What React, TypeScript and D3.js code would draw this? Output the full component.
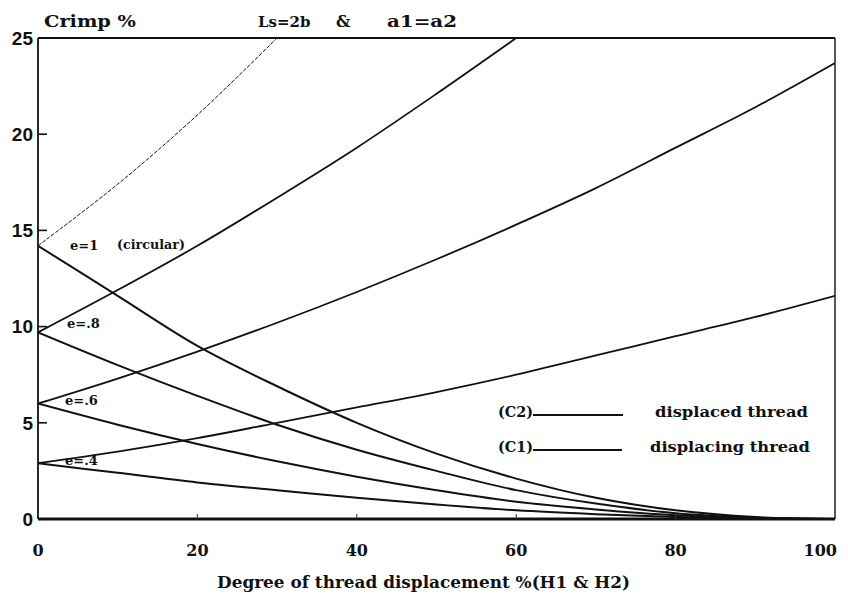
import React from 'react';
import * as d3 from 'd3';

// degree of thread displacement (%)
const xPct = [0, 10, 20, 30, 40, 50, 60, 70, 80, 90, 100];

// C2: displaced thread (crimp rises with displacement)
const c2e10 = [14.2, 17.4, 21.0, 25.0];
const c2e08 = [9.7, 11.9, 14.2, 16.7, 19.3, 22.1, 25.0];
const c2e06 = [6.0, 7.3, 8.7, 10.2, 11.8, 13.5, 15.3, 17.2, 19.3, 21.4, 23.7];
const c2e04 = [2.9, 3.5, 4.2, 5.0, 5.8, 6.6, 7.5, 8.5, 9.5, 10.5, 11.6];

// C1: displacing thread (crimp falls to zero)
const c1e10 = [14.2, 11.6, 9.0, 6.9, 5.0, 3.4, 2.1, 1.1, 0.45, 0.1, 0];
const c1e08 = [9.7, 8.0, 6.4, 4.9, 3.6, 2.5, 1.5, 0.8, 0.3, 0.07, 0];
const c1e06 = [6.0, 4.9, 3.9, 3.0, 2.2, 1.5, 0.9, 0.5, 0.2, 0.05, 0];
const c1e04 = [2.9, 2.4, 1.9, 1.5, 1.1, 0.75, 0.45, 0.25, 0.1, 0.02, 0];

const yTicks = [0, 5, 10, 15, 20, 25];
const xTicks = [0, 20, 40, 60, 80, 100];

const W = 848, H = 596;
const left = 38, right = 835, top = 38, bottom = 519;

const serif = '"DejaVu Serif", serif';
const sans = '"Liberation Sans", Arial, sans-serif';

export default function App() {
  const x = d3.scaleLinear().domain([0, 100]).range([left, right]);
  const y = d3.scaleLinear().domain([0, 25]).range([bottom, top]);

  const line = d3.line<number>()
    .x((d, i) => x(xPct[i]))
    .y(d => y(d))
    .curve(d3.curveCatmullRom.alpha(0.5));

  const series = [
    { v: c2e10, w: 1, dash: '4,1.5' },
    { v: c2e08, w: 1.8 },
    { v: c2e06, w: 1.8 },
    { v: c2e04, w: 1.8 },
    { v: c1e10, w: 2 },
    { v: c1e08, w: 2 },
    { v: c1e06, w: 2 },
    { v: c1e04, w: 2 },
  ];

  return (
    <svg width={W} height={H} style={{ position: 'absolute', left: 0, top: 0, background: '#fff' }}>
      <defs>
        <clipPath id="plot">
          <rect x={left} y={top} width={right - left} height={bottom - top} />
        </clipPath>
      </defs>

      {/* curves */}
      <g clipPath="url(#plot)" fill="none" stroke="#111">
        {series.map((s, i) => (
          <path key={i} d={line(s.v) || ''} strokeWidth={s.w} strokeDasharray={s.dash} />
        ))}
      </g>

      {/* frame */}
      <line x1={left} x2={right} y1={top} y2={top} stroke="#111" strokeWidth={2.2} />
      <line x1={left} x2={left} y1={top} y2={bottom} stroke="#111" strokeWidth={1.8} />
      <line x1={right} x2={right} y1={top} y2={bottom} stroke="#111" strokeWidth={1.4} />
      <line x1={left} x2={right} y1={bottom} y2={bottom} stroke="#111" strokeWidth={3} />

      {/* y axis */}
      {yTicks.map(t => (
        <g key={t}>
          {t > 0 && t < 25 && (
            <line x1={left} x2={left + 9} y1={y(t)} y2={y(t)} stroke="#111" strokeWidth={1.6} />
          )}
          <text x={left - 5} y={y(t)} dy="0.36em" textAnchor="end" fontFamily={sans}
            fontWeight="bold" fontSize={19} fill="#111">{t}</text>
        </g>
      ))}

      {/* x axis */}
      {xTicks.map((t, i) => (
        <g key={t}>
          {t > 0 && t < 100 && (
            <line x1={x(t)} x2={x(t)} y1={bottom} y2={bottom - 5} stroke="#333" strokeWidth={1} />
          )}
          <text x={i === xTicks.length - 1 ? x(t) + 2 : x(t)} y={556}
            textAnchor={i === xTicks.length - 1 ? 'end' : 'middle'}
            fontFamily={serif} fontWeight="bold" fontSize={16} fill="#111">{t}</text>
        </g>
      ))}

      {/* titles */}
      <text x={44} y={27} fontFamily={serif} fontWeight="bold" fontSize={16} fill="#111"
        textLength={92} lengthAdjust="spacingAndGlyphs">Crimp %</text>
      <text x={258} y={27} fontFamily={serif} fontWeight="bold" fontSize={15} fill="#111">Ls=2b</text>
      <text x={336} y={27} fontFamily={serif} fontWeight="bold" fontSize={16} fill="#111">&amp;</text>
      <text x={387} y={27} fontFamily={serif} fontWeight="bold" fontSize={16} fill="#111"
        textLength={70} lengthAdjust="spacingAndGlyphs">a1=a2</text>
      <text x={217} y={588} fontFamily={serif} fontWeight="bold" fontSize={16} fill="#111"
        textLength={413} lengthAdjust="spacingAndGlyphs">Degree of thread displacement %(H1 &amp; H2)</text>

      {/* curve labels */}
      <g fontFamily={serif} fontWeight="bold" fill="#111">
        <text x={70} y={250} fontSize={13}>e=1</text>
        <text x={117} y={249} fontSize={12} textLength={68} lengthAdjust="spacingAndGlyphs">(circular)</text>
        <text x={67} y={328} fontSize={13}>e=.8</text>
        <text x={65} y={405} fontSize={13}>e=.6</text>
        <text x={65} y={465} fontSize={13}>e=.4</text>
      </g>

      {/* legend */}
      <g fontFamily={serif} fontWeight="bold" fill="#111" fontSize={14}>
        <text x={498} y={417} textLength={35} lengthAdjust="spacingAndGlyphs">(C2)</text>
        <line x1={533} x2={623} y1={415} y2={415} stroke="#111" strokeWidth={1.8} />
        <text x={655} y={417} textLength={153} lengthAdjust="spacingAndGlyphs">displaced thread</text>
        <text x={498} y={452} textLength={35} lengthAdjust="spacingAndGlyphs">(C1)</text>
        <line x1={533} x2={622} y1={450} y2={450} stroke="#111" strokeWidth={1.8} />
        <text x={650} y={452} textLength={160} lengthAdjust="spacingAndGlyphs">displacing thread</text>
      </g>
    </svg>
  );
}
